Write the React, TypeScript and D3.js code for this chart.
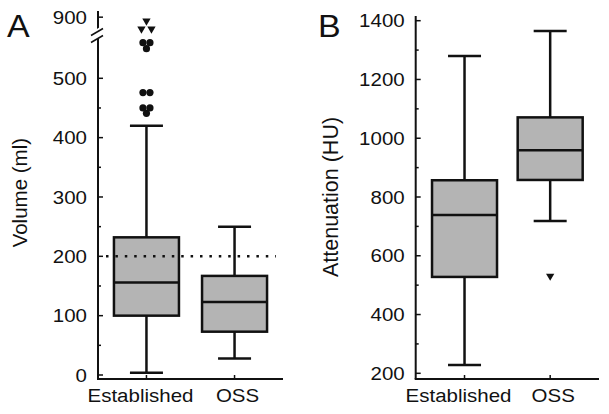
import React from "react";
import * as d3 from "d3";

const W = 609;
const H = 414;
const FONT = "'Liberation Sans', Arial, Helvetica, sans-serif";

const groups = ["Established", "OSS"];

// panel A – volume (ml)
const volStats = [
  { group: "Established", min: 4, q1: 100, median: 156, q3: 232, max: 420 },
  { group: "OSS", min: 28, q1: 73, median: 123, q3: 167, max: 250 },
];
const volOutliers = [
  { group: "Established", value: 441 },
  { group: "Established", value: 450 },
  { group: "Established", value: 450 },
  { group: "Established", value: 476 },
  { group: "Established", value: 476 },
  { group: "Established", value: 550 },
  { group: "Established", value: 560 },
  { group: "Established", value: 560 },
];
// values above the axis break
const volExtremes = [
  { group: "Established", value: 863 },
  { group: "Established", value: 863 },
  { group: "Established", value: 888 },
];
const volTicks = [0, 100, 200, 300, 400, 500];
const volMinorTicks = [50, 150, 250, 350, 450];
const volBreakTicks = [900];
const volCutoff = 200;

// panel B – attenuation (HU)
const huStats = [
  { group: "Established", min: 228, q1: 528, median: 739, q3: 857, max: 1280 },
  { group: "OSS", min: 718, q1: 858, median: 959, q3: 1071, max: 1365 },
];
const huExtremes = [{ group: "OSS", value: 531 }];
const huTicks = [200, 400, 600, 800, 1000, 1200, 1400];
const huMinorTicks = [300, 500, 700, 900, 1100, 1300];

type Stat = { group: string; min: number; q1: number; median: number; q3: number; max: number };
type Pt = { group: string; value: number };

// spread repeated values side by side
function jitter(pts: Pt[], gap: number) {
  const counts = d3.rollup(pts, (v) => v.length, (d) => d.group + "|" + d.value);
  const seen = new Map<string, number>();
  return pts.map((p) => {
    const k = p.group + "|" + p.value;
    const n = counts.get(k) || 1;
    const i = seen.get(k) || 0;
    seen.set(k, i + 1);
    return { ...p, dx: (i - (n - 1) / 2) * gap };
  });
}

const tri = d3.symbol().type(d3.symbolTriangle).size(30)() as string;

function HText({ x, y, children, anchor = "middle", size = 20.5, baseline }: any) {
  return (
    <g transform={`translate(${x},${y}) scale(1,0.9)`}>
      <text
        textAnchor={anchor}
        dominantBaseline={baseline}
        fontSize={size}
        fontFamily={FONT}
        fill="#111"
      >
        {children}
      </text>
    </g>
  );
}

function Boxes({ stats, x, y }: { stats: Stat[]; x: any; y: any }) {
  const bw = 65;
  const cw = 33;
  return (
    <g stroke="#111" strokeWidth={2.5} fill="none">
      {stats.map((s) => {
        const cx = x(s.group);
        return (
          <g key={s.group}>
            <line x1={cx} x2={cx} y1={y(s.max)} y2={y(s.q3)} />
            <line x1={cx} x2={cx} y1={y(s.q1)} y2={y(s.min)} />
            <line x1={cx - cw / 2} x2={cx + cw / 2} y1={y(s.max)} y2={y(s.max)} />
            <line x1={cx - cw / 2} x2={cx + cw / 2} y1={y(s.min)} y2={y(s.min)} />
            <rect
              x={cx - bw / 2}
              y={y(s.q3)}
              width={bw}
              height={y(s.q1) - y(s.q3)}
              fill="#b4b4b4"
            />
            <line x1={cx - bw / 2} x2={cx + bw / 2} y1={y(s.median)} y2={y(s.median)} />
          </g>
        );
      })}
    </g>
  );
}

function XAxis({ x, x0, x1, y0 }: any) {
  return (
    <g>
      <line x1={x0} x2={x1} y1={y0} y2={y0} stroke="#111" strokeWidth={2} />
      {groups.map((g, i) => (
        <g key={g}>
          <line x1={x(g)} x2={x(g)} y1={y0} y2={y0 - 4} stroke="#111" strokeWidth={1.5} />
          <HText x={x(g) + (i === 0 ? -6 : 3)} y={y0 + 23}>
            {g}
          </HText>
        </g>
      ))}
    </g>
  );
}

function YTicks({ y, ax, major, minor }: any) {
  return (
    <g>
      {major.map((t: number) => (
        <g key={"M" + t}>
          <line x1={ax} x2={ax + 5} y1={y(t)} y2={y(t)} stroke="#111" strokeWidth={1.5} />
          <HText x={ax - 11} y={y(t)} anchor="end" baseline="central">
            {t}
          </HText>
        </g>
      ))}
      {minor.map((t: number) => (
        <line key={"m" + t} x1={ax} x2={ax + 3} y1={y(t)} y2={y(t)} stroke="#111" strokeWidth={1.5} />
      ))}
    </g>
  );
}

export default function App() {
  // panel A scales
  const xA = d3.scalePoint().domain(groups).range([98, 283]).padding(0.55);
  const yA = d3.scaleLinear().domain([0, 500]).range([375, 78.3]);
  const yATop = d3.scaleLinear().domain([850, 910]).range([33, 14]);
  const axA = 98;

  // panel B scales
  const xB = d3.scalePoint().domain(groups).range([415.7, 599]).padding(0.57);
  const yB = d3.scaleLinear().domain([200, 1400]).range([373.3, 20.7]);
  const axB = 415.7;

  const outA = jitter(volOutliers, 7);
  const extA = jitter(volExtremes, 10);
  const extB = jitter(huExtremes, 10);

  return (
    <div style={{ position: "fixed", left: 0, top: 0, width: W, height: H, background: "#fff" }}>
      <svg width={W} height={H} style={{ display: "block" }}>
        <rect width={W} height={H} fill="#fff" />

        {/* ---------- panel A ---------- */}
        <HText x={7} y={37} anchor="start" size={34}>A</HText>
        <text
          transform={`translate(27,${(yA(0) + yA(500)) / 2 - 34}) rotate(-90)`}
          textAnchor="middle"
          fontSize={20.5}
          fontFamily={FONT}
          fill="#111"
        >
          Volume (ml)
        </text>

        {/* broken y axis */}
        <line x1={axA} x2={axA} y1={11} y2={31} stroke="#111" strokeWidth={2} />
        <line x1={axA} x2={axA} y1={39} y2={379} stroke="#111" strokeWidth={2} />
        <line x1={90} x2={104} y1={37} y2={28} stroke="#fff" strokeWidth={6} />
        <line x1={91} x2={103} y1={35.5} y2={28.5} stroke="#111" strokeWidth={1.5} />
        <line x1={91} x2={103} y1={42.5} y2={35.5} stroke="#111" strokeWidth={1.5} />
        <YTicks y={yA} ax={axA} major={volTicks} minor={volMinorTicks} />
        <YTicks y={yATop} ax={axA} major={volBreakTicks} minor={[]} />

        <Boxes stats={volStats} x={xA} y={yA} />
        <line
          x1={106}
          x2={276}
          y1={yA(volCutoff)}
          y2={yA(volCutoff)}
          stroke="#111"
          strokeWidth={2.5}
          strokeDasharray="2.5 6.9"
        />
        {outA.map((d, i) => (
          <circle key={"o" + i} cx={(xA(d.group) as number) + d.dx} cy={yA(d.value)} r={3.6} fill="#111" />
        ))}
        {extA.map((d, i) => (
          <path
            key={"e" + i}
            d={tri}
            transform={`translate(${(xA(d.group) as number) + d.dx},${yATop(d.value)}) rotate(180)`}
            fill="#111"
          />
        ))}
        <XAxis x={xA} x0={axA - 1} x1={283} y0={379} />

        {/* ---------- panel B ---------- */}
        <HText x={318} y={37} anchor="start" size={34}>B</HText>
        <text
          transform={`translate(338,${(yB(200) + yB(1400)) / 2}) rotate(-90)`}
          textAnchor="middle"
          fontSize={21.5}
          fontFamily={FONT}
          fill="#111"
        >
          Attenuation (HU)
        </text>
        <line x1={axB} x2={axB} y1={16} y2={379} stroke="#111" strokeWidth={2} />
        <YTicks y={yB} ax={axB} major={huTicks} minor={huMinorTicks} />
        <Boxes stats={huStats} x={xB} y={yB} />
        {extB.map((d, i) => (
          <path
            key={"b" + i}
            d={tri}
            transform={`translate(${(xB(d.group) as number) + d.dx},${yB(d.value)}) rotate(180)`}
            fill="#111"
          />
        ))}
        <XAxis x={xB} x0={axB - 1} x1={599} y0={379} />
      </svg>
    </div>
  );
}
